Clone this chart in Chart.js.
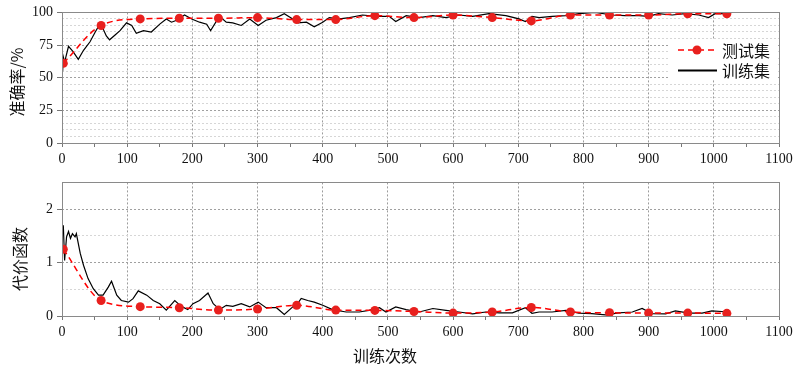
<!DOCTYPE html>
<html><head><meta charset="utf-8">
<script src="https://cdn.jsdelivr.net/npm/chart.js@4.4.1/dist/chart.umd.min.js"></script>
<style>
body{margin:0;background:#fff;width:800px;height:366px;overflow:hidden;position:relative;font-family:"Liberation Serif","Noto Sans CJK SC",serif;color:#111}
canvas{position:absolute;left:0}
#c1{top:0}
#c2{top:170px}
.yt{position:absolute;transform:translate(-50%,-50%) rotate(-90deg);white-space:nowrap;font-size:16px;font-family:"Noto Sans CJK SC","Liberation Serif",serif}
.xt{position:absolute;transform:translate(-50%,-50%);white-space:nowrap;font-size:16px;font-family:"Noto Sans CJK SC",serif}
#lg{position:absolute;left:668px;top:39px;width:108px;height:41px;background:#fff}
#lg svg{position:absolute;left:10px;top:0}
#lg .t{position:absolute;left:54px;font-size:16px;line-height:20px;font-family:"Noto Sans CJK SC",serif}
</style>
</head><body>
<canvas id="c1" width="800" height="170"></canvas>
<canvas id="c2" width="800" height="196"></canvas>
<div class="yt" style="left:16px;top:82px">准确率/%</div>
<div class="yt" style="left:19px;top:259px">代价函数</div>
<div class="xt" style="left:385px;top:355px">训练次数</div>
<div id="lg">
  <svg width="40" height="41">
    <line x1="0" y1="11" x2="39" y2="11" stroke="#ff0000" stroke-width="1.5" stroke-dasharray="6,4"/>
    <circle cx="19" cy="11" r="4.5" fill="#e8201e"/>
    <line x1="0" y1="31.5" x2="39" y2="31.5" stroke="#000" stroke-width="2"/>
  </svg>
  <div class="t" style="top:1px">测试集</div>
  <div class="t" style="top:21px">训练集</div>
</div>
<script>
// ---- data ----
const testX = [2, 60, 120, 180, 240, 300, 360, 420, 480, 540, 600, 660, 720, 780, 840, 900, 960, 1020];
const testAcc = [61, 90, 95, 95.5, 95.5, 96, 94.5, 94.5, 97.5, 96, 98, 96, 93.5, 98, 98, 98, 99, 99];
const testCost = [1.25, 0.29, 0.175, 0.155, 0.11, 0.13, 0.2, 0.11, 0.105, 0.085, 0.055, 0.075, 0.16, 0.075, 0.06, 0.055, 0.055, 0.05];

const trainAccX = [1, 2, 4, 10, 17, 25, 33, 43, 51, 58, 63, 68, 73, 81, 89, 99, 107, 114, 125, 137, 150, 160, 168, 176, 188, 199, 211, 222, 228, 239, 244, 252, 262, 275, 288, 301, 313, 329, 341, 354, 362, 375, 387, 400, 410, 426, 441, 461, 482, 502, 512, 528, 548, 569, 589, 609, 630, 655, 681, 701, 711, 721, 732, 752, 773, 793, 818, 844, 864, 885, 900, 915, 936, 956, 977, 992, 1002, 1017];
const trainAcc = [55, 66, 62, 74, 70, 64, 71, 77.5, 85, 91, 87.5, 82, 79, 82.5, 86, 92, 90, 84, 86, 85, 91, 95, 92.5, 94, 98, 95, 92.5, 91, 86, 95, 96, 92.5, 92, 90, 95, 90, 94, 96, 99, 95, 92, 92.5, 89, 92.5, 96, 95, 96, 98, 97, 97, 93, 97.5, 96, 97.5, 96, 98, 97, 99, 97.5, 95, 93, 97, 96, 97, 97.5, 99, 100, 98, 97.5, 97.5, 97, 99, 98, 99, 98, 96, 99, 99];

const trainCostX = [2, 4, 7, 10, 13, 16, 20, 22, 28, 33, 40, 48, 56, 63, 71, 76, 84, 91, 102, 109, 117, 130, 140, 150, 160, 173, 183, 193, 201, 211, 224, 232, 242, 252, 262, 275, 288, 301, 313, 329, 341, 354, 362, 367, 377, 387, 400, 415, 436, 456, 471, 487, 497, 512, 528, 548, 569, 589, 609, 630, 650, 671, 691, 711, 721, 732, 752, 773, 793, 813, 834, 854, 875, 890, 905, 926, 941, 962, 982, 997, 1017];
const trainCost = [1.7, 1.04, 1.48, 1.58, 1.45, 1.54, 1.48, 1.54, 1.17, 0.95, 0.7, 0.51, 0.39, 0.39, 0.54, 0.65, 0.39, 0.29, 0.26, 0.325, 0.47, 0.39, 0.29, 0.23, 0.11, 0.29, 0.18, 0.12, 0.23, 0.29, 0.43, 0.23, 0.12, 0.2, 0.18, 0.23, 0.17, 0.26, 0.155, 0.155, 0.03, 0.17, 0.24, 0.33, 0.29, 0.26, 0.2, 0.12, 0.075, 0.075, 0.105, 0.155, 0.075, 0.17, 0.12, 0.075, 0.14, 0.105, 0.075, 0.04, 0.075, 0.06, 0.06, 0.155, 0.05, 0.075, 0.075, 0.105, 0.055, 0.045, 0.02, 0.06, 0.075, 0.14, 0.045, 0.04, 0.095, 0.055, 0.055, 0.095, 0.08];

const xTickStep = 50, xLabelStep = 100;

// ---- helpers ----
const pts = (xs, ys) => xs.map((x, i) => ({x, y: ys[i]}));
const FONT = {family: '"Liberation Serif", serif', size: 14};
const TR = 'rgba(0,0,0,0)';
const frame = {id: 'frame', afterDraw(c) {
  const a = c.chartArea, ctx = c.ctx;
  ctx.save(); ctx.strokeStyle = '#8a8a8a'; ctx.lineWidth = 1;
  ctx.strokeRect(Math.round(a.left) + 0.5, Math.round(a.top) + 0.5, Math.round(a.right - a.left), Math.round(a.bottom - a.top));
  ctx.restore();
}};
function xScale(h) {
  return {type: 'linear', min: 0, max: 1100,
    ticks: {stepSize: xTickStep, autoSkip: false, maxRotation: 0, padding: 4, color: '#111', font: FONT,
      callback: v => (v % xLabelStep === 0 ? String(v) : '')},
    grid: {color: c => (c.tick && c.tick.value % xLabelStep === 0 ? '#9c9c9c' : TR), tickColor: '#777', tickLength: 4, lineWidth: 1},
    border: {display: false, dash: [2, 2]},
    afterFit: s => { s.height = h; }};
}
function yScale(max, step, major) {
  const isMajor = v => Math.abs(v / major - Math.round(v / major)) < 1e-6;
  return {min: 0, max: max,
    ticks: {stepSize: step, autoSkip: false, padding: 4, color: '#111', font: FONT,
      callback: v => (isMajor(v) ? String(v) : '')},
    grid: {color: c => (c.tick && isMajor(c.tick.value) ? '#a0a0a0' : '#d6d6d6'),
      tickColor: c => (c.tick && isMajor(c.tick.value) ? '#777' : TR),
      tickLength: 5, lineWidth: 1},
    border: {display: false, dash: [2, 2]},
    afterFit: s => { s.width = 62; }};
}
function testDs(ys) {
  return {data: pts(testX, ys), borderColor: '#ff0000', borderWidth: 1.5, borderDash: [6, 4],
    pointRadius: 4.5, pointBackgroundColor: '#e8201e', pointBorderWidth: 0, cubicInterpolationMode: 'monotone', fill: false};
}
function trainDs(xs, ys) {
  return {data: pts(xs, ys), borderColor: '#000', borderWidth: 1.2, pointRadius: 0, tension: 0, fill: false};
}
const common = {responsive: false, animation: false, devicePixelRatio: 1,
  plugins: {legend: {display: false}, tooltip: {enabled: false}}};

new Chart(document.getElementById('c1'), {
  type: 'line',
  data: {datasets: [testDs(testAcc), trainDs(trainAccX, trainAcc)]},
  options: Object.assign({}, common, {
    layout: {padding: {left: 0, right: 21, top: 10, bottom: 0}},
    scales: {x: xScale(27), y: yScale(100, 5, 25)}
  }),
  plugins: [frame]
});
new Chart(document.getElementById('c2'), {
  type: 'line',
  data: {datasets: [testDs(testCost), trainDs(trainCostX, trainCost)]},
  options: Object.assign({}, common, {
    layout: {padding: {left: 0, right: 21, top: 12, bottom: 0}},
    scales: {x: xScale(50), y: yScale(2.5, 0.5, 1)}
  }),
  plugins: [frame]
});
</script>
</body></html>
